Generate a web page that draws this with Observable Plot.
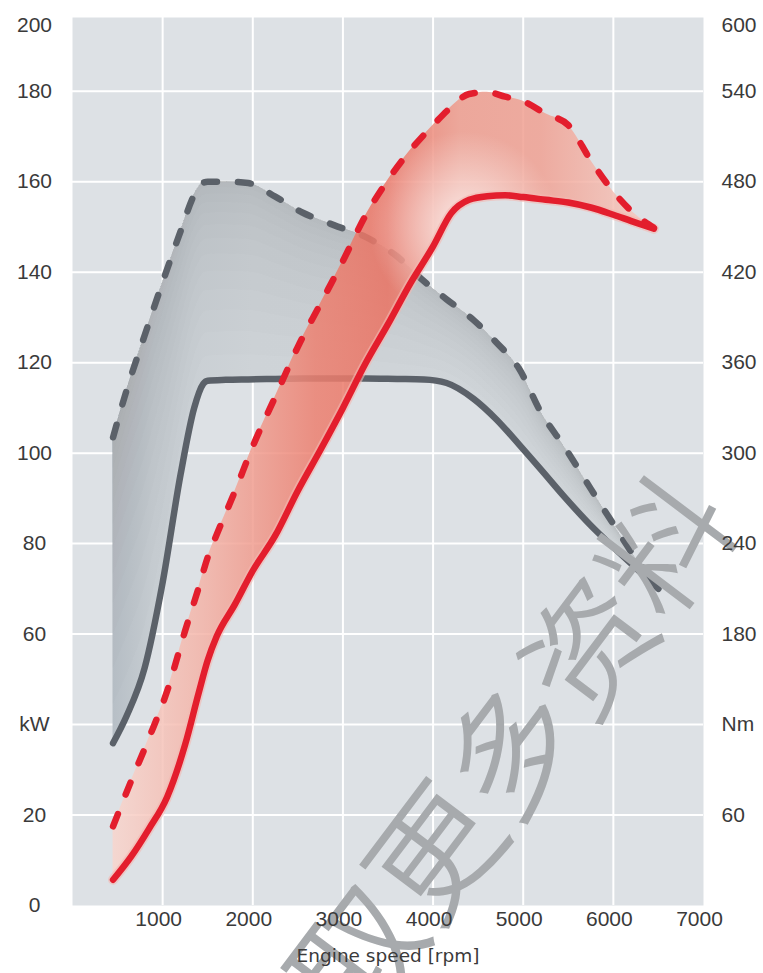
<!DOCTYPE html>
<html>
<head>
<meta charset="utf-8">
<script src="https://cdn.jsdelivr.net/npm/d3@7"></script>
<script src="https://cdn.jsdelivr.net/npm/@observablehq/plot@0.6"></script>
<style>
  html, body { margin: 0; padding: 0; background: #fff; overflow: hidden; }
  #chart { position: relative; width: 763px; height: 973px; }
</style>
</head>
<body>
<div id="chart"></div>
<script>
// ---------- data ----------
const xTicks = [1000, 2000, 3000, 4000, 5000, 6000, 7000];
const gridX = [1000, 2000, 3000, 4000, 5000, 6000];
const gridY = [20, 40, 60, 80, 100, 120, 140, 160, 180];
const leftTickValues = [0, 20, 40, 60, 80, 100, 120, 140, 160, 180, 200];
const leftTickLabels = ["0", "20", "kW", "60", "80", "100", "120", "140", "160", "180", "200"];
const rightTickValues = [60, 120, 180, 240, 300, 360, 420, 480, 540, 600];
const rightTickLabels = ["60", "Nm", "180", "240", "300", "360", "420", "480", "540", "600"];
const xTitle = "Engine speed [rpm]";
const watermarkText = "获取更多资料";

// grey pair: rpm, dashed curve, solid curve (left-axis units)
const grayRpm    = [450, 600, 800, 1000, 1200, 1350, 1450, 1500, 1700, 1950, 2250, 2550, 2900, 3250, 3600, 3900, 4150, 4450, 4700, 4950, 5200, 5450, 5750, 6000, 6250, 6500];
const grayDashed = [103.5, 113.9, 126, 137.8, 149.1, 157.1, 159.8, 160, 160, 159.7, 156.7, 153.2, 150.4, 147.8, 143.5, 138, 134, 129.4, 124.5, 118.8, 108.9, 101.6, 92.1, 84.3, 76.7, 70.5];
const graySolid  = [35.9, 41.9, 52.5, 71.4, 95.4, 110, 115.3, 116, 116.2, 116.3, 116.4, 116.5, 116.5, 116.5, 116.4, 116.3, 115.5, 112, 107.5, 102, 96.3, 90.5, 84, 79.2, 74.6, 70];

// red pair
const redRpm    = [450, 650, 850, 1050, 1250, 1400, 1500, 1600, 1800, 2000, 2250, 2500, 2750, 3000, 3250, 3500, 3750, 4000, 4200, 4400, 4600, 4800, 5000, 5250, 5500, 5750, 6000, 6200, 6450];
const redDashed = [17.5, 27.5, 37.1, 47.4, 60.8, 70.3, 77, 82, 91.5, 101.5, 112.5, 123.5, 133, 142.5, 152.5, 160.4, 167, 172.5, 176.5, 179.4, 179.8, 178.8, 177.8, 175, 172.5, 164.7, 157.8, 153.5, 149.8];
const redSolid  = [5.7, 10.8, 17, 24, 35.6, 47, 54.2, 59.5, 66.5, 74, 81.8, 91.7, 100.7, 110, 119.8, 128.5, 137.6, 145.7, 153, 156, 156.8, 157, 156.6, 156, 155.4, 154.3, 152.7, 151.3, 149.6];

// ---------- style ----------
const nmPerUnit = 3;
const yTop = 196.3;
const labelTop = 194.5;
const bg = "#dde1e5";
const grayLine = "#5b6169";
const redLine = "#e31e2d";
const labelColor = "#3a3a3a";
const tickFont = "Liberation Sans, Arial, sans-serif";
const grayLayers = d3.range(14).map(k => Math.pow(1 - k / 14, 1.8));
const grayStops = [[450, "#b9c1c8"], [900, "#c9cfd4"], [2000, "#d0d5d9"], [6500, "#d3d8dc"]];
const redStops = [[450, "#f8d5cd"], [1500, "#f3b2a6"], [2700, "#ec8070"], [3500, "#ea7363"], [4300, "#ef9d8e"], [5200, "#f0a193"], [6450, "#f6cdc4"]];

const gi = grayRpm.map((_, i) => i);
const ri = redRpm.map((_, i) => i);
const curve = "monotone-x";

const marks = [
  Plot.frame({fill: bg, stroke: null}),
  Plot.ruleX(gridX, {stroke: "#ffffff", strokeWidth: 2}),
  Plot.ruleY(gridY, {stroke: "#ffffff", strokeWidth: 2}),
  // grey band
  Plot.areaY(gi, {x: i => grayRpm[i], y1: i => graySolid[i], y2: i => grayDashed[i], curve, fill: "url(#grayGrad)"}),
  ...grayLayers.map(f => Plot.areaY(gi, {
    x: i => grayRpm[i],
    y1: i => grayDashed[i] - f * (grayDashed[i] - graySolid[i]),
    y2: i => grayDashed[i],
    curve, fill: "#87939c", fillOpacity: 0.026
  })),
  Plot.line(gi, {x: i => grayRpm[i], y: i => graySolid[i], curve, stroke: grayLine, strokeWidth: 6.5, strokeLinecap: "round", strokeLinejoin: "round"}),
  Plot.line(gi, {x: i => grayRpm[i], y: i => grayDashed[i], curve, stroke: grayLine, strokeWidth: 6.5, strokeLinecap: "round", strokeLinejoin: "round", strokeDasharray: "13,21"}),
  // red band
  Plot.areaY(ri, {x: i => redRpm[i], y1: i => redSolid[i], y2: i => redDashed[i], curve, fill: "url(#redGrad)", fillOpacity: 0.85}),
  Plot.areaY(ri, {x: i => redRpm[i], y1: i => redSolid[i], y2: i => redDashed[i], curve, fill: "url(#redGlow)"}),
  Plot.line(ri, {x: i => redRpm[i], y: i => redSolid[i], curve, stroke: "#f4b8b0", strokeOpacity: 0.6, strokeWidth: 10, strokeLinecap: "round"}),
  Plot.line(ri, {x: i => redRpm[i], y: i => redSolid[i], curve, stroke: redLine, strokeWidth: 6.5, strokeLinecap: "round", strokeLinejoin: "round"}),
  Plot.line(ri, {x: i => redRpm[i], y: i => redDashed[i], curve, stroke: redLine, strokeWidth: 6.5, strokeLinecap: "round", strokeLinejoin: "round", strokeDasharray: "13,21"}),
  // tick labels
  Plot.text(leftTickValues, {y: d => Math.min(d, labelTop), text: (d, i) => leftTickLabels[i], frameAnchor: "left", dx: -38, textAnchor: "middle", fontSize: 21, fill: labelColor, fontFamily: tickFont}),
  Plot.text(rightTickValues, {y: d => Math.min(d / nmPerUnit, labelTop), text: (d, i) => rightTickLabels[i], frameAnchor: "right", dx: 18, textAnchor: "start", fontSize: 21, fill: labelColor, fontFamily: tickFont}),
  Plot.text(xTicks, {x: d => d, text: d => String(d), frameAnchor: "bottom", dy: 20, dx: -4, fontSize: 21, fill: labelColor, fontFamily: tickFont}),
  Plot.text([xTitle], {frameAnchor: "bottom", dy: 56, fontSize: 18.5, fill: labelColor, fontFamily: "DejaVu Sans, sans-serif"})
];

const chart = Plot.plot({
  width: 763, height: 973,
  marginLeft: 72, marginRight: 60, marginTop: 17, marginBottom: 68,
  x: {domain: [0, 7000], axis: null},
  y: {domain: [0, yTop], axis: null},
  style: {background: "#ffffff", overflow: "visible"},
  marks
});

// gradients derived from the scales
const xs = chart.scale("x"), ys = chart.scale("y");
const svg = d3.select(chart);
const defs = svg.insert("defs", ":first-child");
function hGrad(id, stops) {
  const a = stops[0][0], b = stops[stops.length - 1][0];
  const g = defs.append("linearGradient").attr("id", id)
    .attr("gradientUnits", "userSpaceOnUse")
    .attr("x1", xs.apply(a)).attr("x2", xs.apply(b)).attr("y1", 0).attr("y2", 0);
  stops.forEach(([rpm, c]) => g.append("stop").attr("offset", (rpm - a) / (b - a)).attr("stop-color", c));
}
hGrad("redGrad", redStops);
hGrad("grayGrad", grayStops);
const rg = defs.append("radialGradient").attr("id", "redGlow")
  .attr("gradientUnits", "userSpaceOnUse")
  .attr("cx", xs.apply(4350)).attr("cy", ys.apply(150)).attr("r", 95);
rg.append("stop").attr("offset", 0).attr("stop-color", "#ffffff").attr("stop-opacity", 0.75);
rg.append("stop").attr("offset", 1).attr("stop-color", "#ffffff").attr("stop-opacity", 0);

// watermark, under the labels
const firstText = svg.select('g[aria-label="text"]').node();
const wm = document.createElementNS("http://www.w3.org/2000/svg", "text");
chart.insertBefore(wm, firstText);
d3.select(wm)
  .attr("transform", "translate(467,796) rotate(-53)")
  .attr("text-anchor", "middle")
  .attr("dominant-baseline", "central")
  .attr("font-family", "Noto Sans CJK SC")
  .attr("font-weight", 350)
  .attr("font-size", 128)
  .attr("fill", "#a7aaad")
  .text(watermarkText);

document.getElementById("chart").appendChild(chart);
</script>
</body>
</html>
